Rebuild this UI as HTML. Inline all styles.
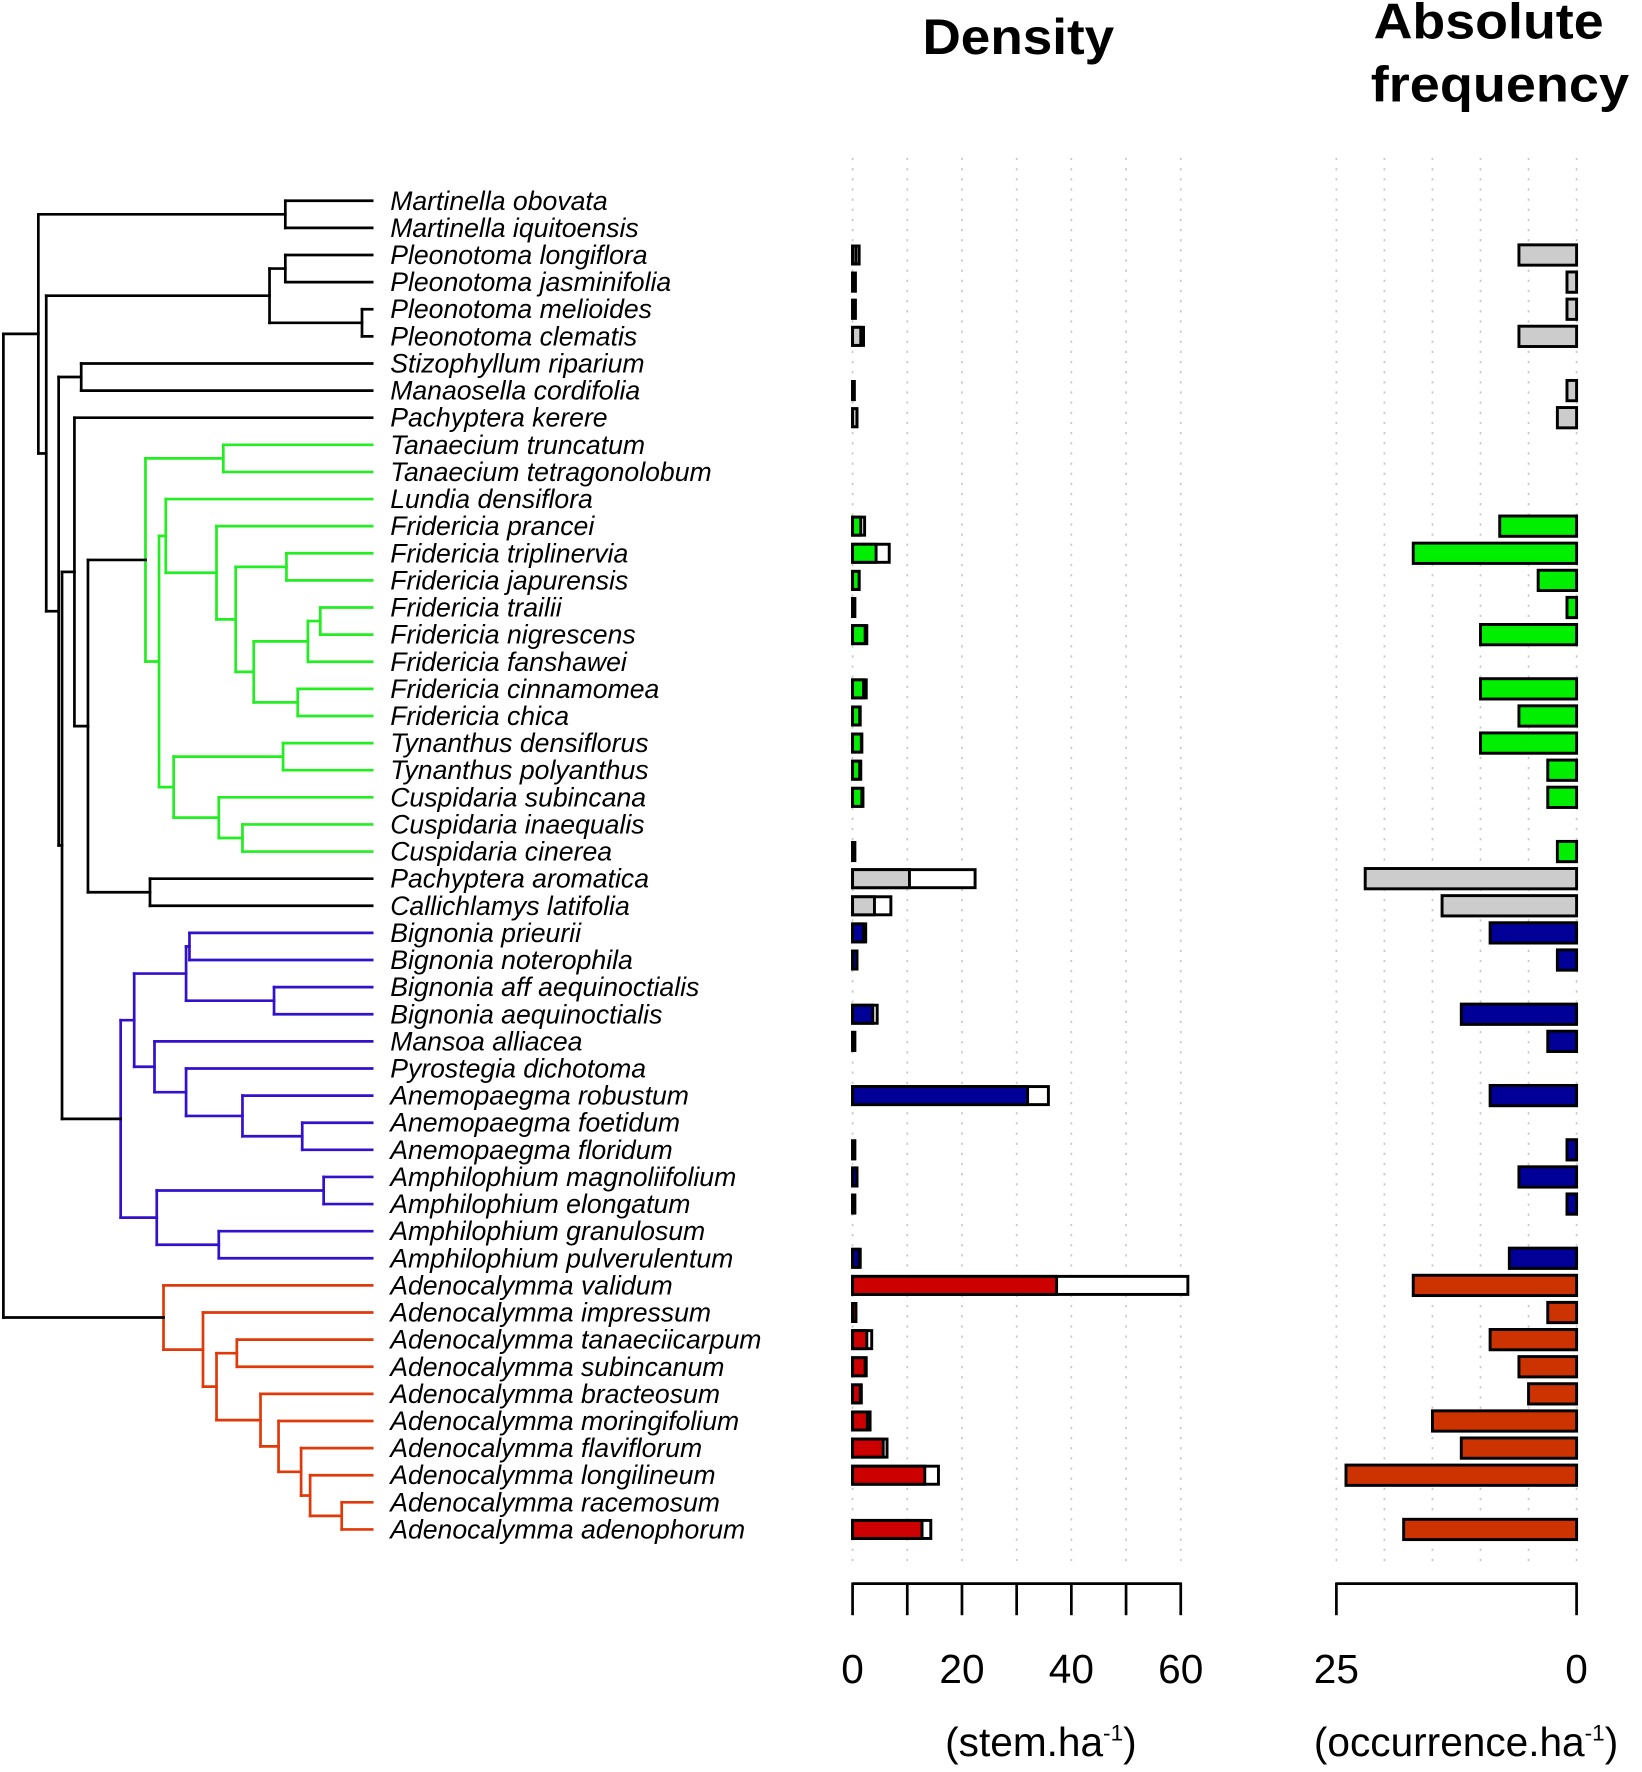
<!DOCTYPE html>
<html><head><meta charset="utf-8"><title>Phylogeny with density and frequency</title>
<style>
html,body{margin:0;padding:0;background:#fff;}
svg{display:block;}
text{font-family:"Liberation Sans",sans-serif;}
.lab{font-style:italic;font-size:23.6px;fill:#000;}
</style></head>
<body>
<svg id="chart" xmlns="http://www.w3.org/2000/svg" width="1642" height="1772" viewBox="0 0 1456 1571" preserveAspectRatio="none">
<rect x="0" y="0" width="1456" height="1571" fill="#fff"/>
<g id="grid"></g>
<g id="tree"></g>
<g id="labels"></g>
<g id="dens"></g>
<g id="freq"></g>
<g id="axes"></g>
<text x="903" y="48" font-size="44" font-weight="bold" text-anchor="middle" textLength="170" lengthAdjust="spacingAndGlyphs">Density</text>
<text x="1320" y="34" font-size="44" font-weight="bold" text-anchor="middle" textLength="204" lengthAdjust="spacingAndGlyphs">Absolute</text>
<text x="1330" y="90" font-size="44" font-weight="bold" text-anchor="middle" textLength="229" lengthAdjust="spacingAndGlyphs">frequency</text>
</svg>
<script>
const species = ["Martinella obovata","Martinella iquitoensis","Pleonotoma longiflora","Pleonotoma jasminifolia","Pleonotoma melioides","Pleonotoma clematis","Stizophyllum riparium","Manaosella cordifolia","Pachyptera kerere","Tanaecium truncatum","Tanaecium tetragonolobum","Lundia densiflora","Fridericia prancei","Fridericia triplinervia","Fridericia japurensis","Fridericia trailii","Fridericia nigrescens","Fridericia fanshawei","Fridericia cinnamomea","Fridericia chica","Tynanthus densiflorus","Tynanthus polyanthus","Cuspidaria subincana","Cuspidaria inaequalis","Cuspidaria cinerea","Pachyptera aromatica","Callichlamys latifolia","Bignonia prieurii","Bignonia noterophila","Bignonia aff aequinoctialis","Bignonia aequinoctialis","Mansoa alliacea","Pyrostegia dichotoma","Anemopaegma robustum","Anemopaegma foetidum","Anemopaegma floridum","Amphilophium magnoliifolium","Amphilophium elongatum","Amphilophium granulosum","Amphilophium pulverulentum","Adenocalymma validum","Adenocalymma impressum","Adenocalymma tanaeciicarpum","Adenocalymma subincanum","Adenocalymma bracteosum","Adenocalymma moringifolium","Adenocalymma flaviflorum","Adenocalymma longilineum","Adenocalymma racemosum","Adenocalymma adenophorum"];
const group = ["k","k","k","k","k","k","k","k","k","g","g","g","g","g","g","g","g","g","g","g","g","g","g","g","g","k","k","b","b","b","b","b","b","b","b","b","b","b","b","b","r","r","r","r","r","r","r","r","r","r"];
const densityInner = [0,0,0.6,0.5,0.5,1.5,0,0.3,0.8,0,0,0,1.5,4.3,1.2,0.4,2.3,0,2.0,1.3,1.6,1.3,1.7,0,0.4,10.4,4.0,2.0,0.8,0,3.7,0.4,0,32.0,0,0.4,0.8,0.4,0,1.2,37.3,0.6,2.6,2.3,1.4,2.7,5.6,13.2,0,12.7];
const densityTotal = [0,0,1.2,0.5,0.5,2.0,0,0.3,0.8,0,0,0,2.2,6.7,1.2,0.4,2.6,0,2.5,1.4,1.7,1.5,1.9,0,0.4,22.4,7.0,2.4,0.8,0,4.5,0.4,0,35.8,0,0.4,0.8,0.4,0,1.4,61.3,0.6,3.5,2.5,1.6,3.2,6.3,15.7,0,14.3];
const frequency = [0,0,6,1,1,6,0,1,2,0,0,0,8,17,4,1,10,0,10,6,10,3,3,0,2,22,14,9,2,0,12,3,0,9,0,1,6,1,0,7,17,3,9,6,5,15,12,24,0,18];
const densityTicks = [0,10,20,30,40,50,60];
const densityTickLabels = ["0","20","40","60"];
const freqTicks = [25,0];
const freqGrid = [25,20,15,10,5,0];

const NS="http://www.w3.org/2000/svg";
const treeCol={k:"#000000",g:"#22ee22",b:"#3311cc",r:"#e03a0a"};
const densCol={k:"#cccccc",g:"#00ee00",b:"#000099",r:"#cc0000"};
const freqCol={k:"#cccccc",g:"#00ee00",b:"#000099",r:"#cc3300"};
const rowY=i=>178+i*24.04;
const dx=v=>756+v*(1047-756)/60;
const fx=v=>1398-v*(1398-1185)/25;
function mk(tag,attrs,parent){const e=document.createElementNS(NS,tag);for(const k in attrs)e.setAttribute(k,attrs[k]);parent.appendChild(e);return e;}

const grid=document.getElementById('grid');
densityTicks.forEach(v=>{const l=mk('line',{x1:dx(v),x2:dx(v),y1:140,y2:1390,stroke:'#c8c8c8','stroke-width':1.5,'stroke-dasharray':'2 7'},grid);

});
freqGrid.forEach(v=>{const l=mk('line',{x1:fx(v),x2:fx(v),y1:140,y2:1390,stroke:'#c8c8c8','stroke-width':1.5,'stroke-dasharray':'2 7'},grid);

});

const TREE=[3,'k',
 [34,'k',[253,'k',0,1],
   [41,'k',[239,'k',[253,'k',2,3],[321,'k',4,5]],
     [52,'k',[72,'k',6,7],
       [55,'k',
         [66,'k',8,[78,'k',
            [129,'g',[198,'g',9,10],
              [141,'g',
                [147,'g',11,[192,'g',12,[209,'g',[254,'g',13,14],[225,'g',[273,'g',[284,'g',15,16],17],[264,'g',18,19]]]]],
                [154,'g',[251,'g',20,21],[194,'g',22,[215,'g',23,24]]]]],
            [133,'k',25,26]]],
         [107,'b',
           [119,'b',[165,'b',[168,'b',27,28],[243,'b',29,30]],
                    [137,'b',31,[165,'b',32,[215,'b',33,[268,'b',34,35]]]]],
           [139,'b',[287,'b',36,37],[194,'b',38,39]]]]]]],
 [145,'r',40,[180,'r',41,[192,'r',[210,'r',42,43],[231,'r',44,[247,'r',45,[267,'r',46,[275,'r',47,[303,'r',48,49]]]]]]]]];
const tree=document.getElementById('tree');
function draw(node){
  const x=node[0],c=treeCol[node[1]];const ys=[];
  for(let i=2;i<node.length;i++){const ch=node[i];let cy,cx;
    if(typeof ch==='number'){cy=rowY(ch);cx=330;}else{cy=draw(ch);cx=ch[0];}
    ys.push(cy);
    const h=mk('line',{x1:x,x2:cx,y1:cy,y2:cy,stroke:c,'stroke-width':2.4,'stroke-linecap':'square'},tree);
    
    }
  const y0=Math.min(...ys),y1=Math.max(...ys);
  const v=mk('line',{x1:x,x2:x,y1:y0,y2:y1,stroke:c,'stroke-width':2.4,'stroke-linecap':'square'},tree);
  
  
  return ys.reduce((a,b)=>a+b,0)/ys.length;
}
draw(TREE);

const labels=document.getElementById('labels'),dens=document.getElementById('dens'),freq=document.getElementById('freq');
species.forEach((s,i)=>{const y=rowY(i);
  const t=mk('text',{x:346,y:y+8,class:'lab'},labels);t.textContent=s;
  
  
  if(densityTotal[i]>0){
    const w=Math.max(dx(densityTotal[i])-dx(0),1.5);
    const o=mk('rect',{x:dx(0),y:y-8,width:w,height:16,fill:'#fff',stroke:'#000','stroke-width':2.6},dens);
    
    
    const wi=Math.max(dx(densityInner[i])-dx(0),0.5);
    const r=mk('rect',{x:dx(0),y:y-8,width:wi,height:16,fill:densCol[group[i]],stroke:'#000','stroke-width':2.6},dens);
    
    }
  if(frequency[i]>0){
    const r=mk('rect',{x:fx(frequency[i]),y:y-9,width:fx(0)-fx(frequency[i]),height:18,fill:freqCol[group[i]],stroke:'#000','stroke-width':2.6},freq);
    
    }
});

const axes=document.getElementById('axes');
const da=mk('line',{x1:dx(0),x2:dx(60),y1:1404,y2:1404,stroke:'#000','stroke-width':2.4},axes);


densityTicks.forEach(v=>{const l=mk('line',{x1:dx(v),x2:dx(v),y1:1403,y2:1432,stroke:'#000','stroke-width':2.4},axes);

});
densityTickLabels.forEach(s=>{const t=mk('text',{x:dx(+s),y:1492,'font-size':36,'text-anchor':'middle'},axes);t.textContent=s;

});
const fa=mk('line',{x1:fx(25),x2:fx(0),y1:1404,y2:1404,stroke:'#000','stroke-width':2.4},axes);


freqTicks.forEach(v=>{const l=mk('line',{x1:fx(v),x2:fx(v),y1:1403,y2:1432,stroke:'#000','stroke-width':2.4},axes);


const t=mk('text',{x:fx(v),y:1492,'font-size':36,'text-anchor':'middle'},axes);t.textContent=String(v);

});
</script>
<svg style="position:absolute;left:0;top:0" width="1642" height="1772" viewBox="0 0 1456 1571" preserveAspectRatio="none">
<text x="923" y="1557" font-size="36" text-anchor="middle" font-family="Liberation Sans, sans-serif">(stem.ha<tspan font-size="20" dy="-14">-1</tspan><tspan dy="14">)</tspan></text>
<text x="1300" y="1557" font-size="36" text-anchor="middle" font-family="Liberation Sans, sans-serif">(occurrence.ha<tspan font-size="20" dy="-14">-1</tspan><tspan dy="14">)</tspan></text>
</svg>
</body></html>
